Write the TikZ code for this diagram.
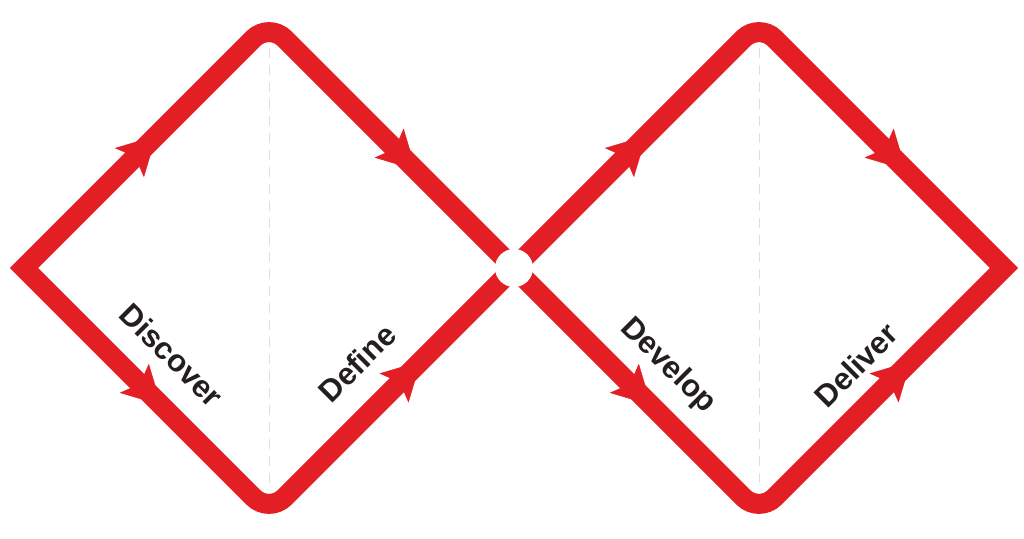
\documentclass[tikz,border=0pt]{standalone}
\usepackage{fontspec}
\setmainfont{Liberation Sans}
\usetikzlibrary{arrows.meta,decorations.markings}
\definecolor{ddred}{RGB}{227,30,36}
\definecolor{ddtext}{RGB}{35,31,32}
\definecolor{ddgrey}{RGB}{222,222,222}

\begin{document}
\begin{tikzpicture}[x=1pt, y=1pt,
  track/.style={draw=ddred, line width=20pt, line join=miter},
  flow/.style={postaction=decorate, decoration={markings, mark=at position #1 with {\arrow{Stealth[length=38pt, width=41pt, inset=8pt, color=ddred]}}}},
  phase/.style={text=ddtext, font=\fontsize{31}{33}\selectfont\bfseries, inner sep=0pt},
  divider/.style={draw=ddgrey, line width=1pt, dash pattern=on 10pt off 7pt}]
  \useasboundingbox (0,0) rectangle (1024,538);
  \coordinate (L) at (24,270);
  \coordinate (T1) at (269,515);
  \coordinate (B1) at (269,25);
  \coordinate (M) at (514,270);
  \coordinate (T2) at (759,515);
  \coordinate (B2) at (759,25);
  \coordinate (R) at (1004,270);

  \draw[track] (L) [rounded corners=22pt] -- (T1) [sharp corners] -- (M) [rounded corners=22pt] -- (B1) [sharp corners] -- cycle;
  \draw[track] (M) [rounded corners=22pt] -- (T2) [sharp corners] -- (R) [rounded corners=22pt] -- (B2) [sharp corners] -- cycle;

  \path[flow=0.54] (L) -- (T1);
  \path[flow=0.60] (T1) -- (M);
  \path[flow=0.56] (L) -- (B1);
  \path[flow=0.62] (B1) -- (M);
  \path[flow=0.54] (M) -- (T2);
  \path[flow=0.60] (T2) -- (R);
  \path[flow=0.56] (M) -- (B2);
  \path[flow=0.62] (B2) -- (R);

  \node[circle, fill=white, minimum size=38pt, inner sep=0pt] (junction) at (M) {};

  \coordinate (top1) at (269,490);
  \coordinate (bot1) at (269,52);
  \coordinate (top2) at (759,490);
  \coordinate (bot2) at (759,52);
  \draw[divider] (top1) -- (bot1);
  \draw[divider] (top2) -- (bot2);

  \node[phase, rotate=-45] (discover) at (172,183) {Discover};
  \node[phase, rotate=45] (define) at (357,175) {Define};
  \node[phase, rotate=-45] (develop) at (668,172) {Develop};
  \node[phase, rotate=45] (deliver) at (856,173) {Deliver};
\end{tikzpicture}
\end{document}
